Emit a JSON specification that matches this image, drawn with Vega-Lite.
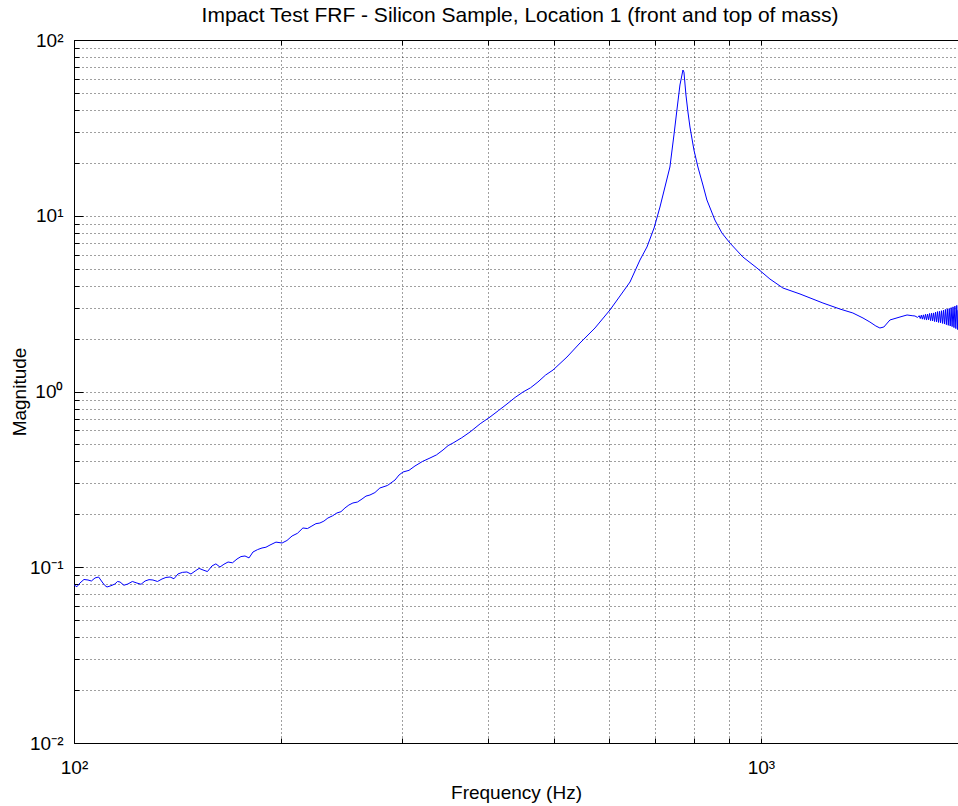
{
  "$schema": "https://vega.github.io/schema/vega-lite/v6.json",
  "width": 884,
  "height": 703,
  "autosize": "none",
  "padding": {"left": 74, "top": 40, "right": 0, "bottom": 63},
  "background": "white",
  "title": {"text": "Impact Test FRF - Silicon Sample, Location 1 (front and top of mass)", "font": "Liberation Sans", "fontSize": 21, "fontWeight": "normal", "color": "black", "anchor": "middle", "offset": 5, "dx": 4},
  "config": {"view": {"stroke": null}},
  "data": {"values": [
    {"f": 100, "m": 0.0793}, {"f": 101.0, "m": 0.0775}, {"f": 102.0, "m": 0.0813}, {"f": 103.4, "m": 0.0852}, {"f": 104.8, "m": 0.0846},
    {"f": 106.0, "m": 0.0835}, {"f": 107.3, "m": 0.0869}, {"f": 108.6, "m": 0.0880}, {"f": 109.9, "m": 0.0824}, {"f": 110.8, "m": 0.0790},
    {"f": 111.7, "m": 0.0772}, {"f": 113.2, "m": 0.0785}, {"f": 114.7, "m": 0.0803}, {"f": 115.7, "m": 0.0830}, {"f": 116.7, "m": 0.0824},
    {"f": 118.2, "m": 0.0790}, {"f": 119.8, "m": 0.0803}, {"f": 121.6, "m": 0.0830}, {"f": 123.5, "m": 0.0813}, {"f": 125.2, "m": 0.0800},
    {"f": 126.9, "m": 0.0835}, {"f": 128.6, "m": 0.0850}, {"f": 130.3, "m": 0.0846}, {"f": 132.3, "m": 0.0830}, {"f": 134.3, "m": 0.0857},
    {"f": 136.1, "m": 0.0875}, {"f": 138.0, "m": 0.0880}, {"f": 139.8, "m": 0.0860}, {"f": 141.7, "m": 0.0916}, {"f": 143.8, "m": 0.0935},
    {"f": 146.0, "m": 0.0940}, {"f": 148.0, "m": 0.0915}, {"f": 150.1, "m": 0.0952}, {"f": 152.1, "m": 0.0985}, {"f": 154.1, "m": 0.0965},
    {"f": 156.4, "m": 0.0945}, {"f": 158.8, "m": 0.1017}, {"f": 160.9, "m": 0.1045}, {"f": 163.1, "m": 0.1003}, {"f": 165.3, "m": 0.1040},
    {"f": 167.6, "m": 0.1071}, {"f": 170.1, "m": 0.1060}, {"f": 172.7, "m": 0.1114}, {"f": 175.0, "m": 0.1150}, {"f": 177.4, "m": 0.1159},
    {"f": 179.8, "m": 0.1130}, {"f": 182.2, "m": 0.1221}, {"f": 185.0, "m": 0.1260}, {"f": 187.8, "m": 0.1287}, {"f": 190.3, "m": 0.1300},
    {"f": 192.9, "m": 0.1338}, {"f": 196.8, "m": 0.1390}, {"f": 200.9, "m": 0.1374}, {"f": 204.2, "m": 0.1420}, {"f": 207.7, "m": 0.1506},
    {"f": 211.5, "m": 0.1560}, {"f": 215.4, "m": 0.1673}, {"f": 218.7, "m": 0.1660}, {"f": 222.0, "m": 0.1717}, {"f": 225.0, "m": 0.1770},
    {"f": 228.0, "m": 0.1785}, {"f": 231.1, "m": 0.1830}, {"f": 234.2, "m": 0.1906}, {"f": 237.8, "m": 0.1960}, {"f": 241.4, "m": 0.2036},
    {"f": 244.7, "m": 0.2070}, {"f": 248.0, "m": 0.2174}, {"f": 251.3, "m": 0.2260}, {"f": 254.7, "m": 0.2321}, {"f": 258.6, "m": 0.2350},
    {"f": 262.6, "m": 0.2445}, {"f": 266.1, "m": 0.2540}, {"f": 269.7, "m": 0.2577}, {"f": 274.2, "m": 0.2660}, {"f": 278.8, "m": 0.2824},
    {"f": 286.0, "m": 0.2920}, {"f": 293.3, "m": 0.3136}, {"f": 297.3, "m": 0.3350}, {"f": 301.3, "m": 0.3483}, {"f": 307.4, "m": 0.3560},
    {"f": 313.6, "m": 0.3769}, {"f": 321.6, "m": 0.4000}, {"f": 329.8, "m": 0.4184}, {"f": 337.1, "m": 0.4360}, {"f": 344.5, "m": 0.4647},
    {"f": 350.4, "m": 0.4920}, {"f": 356.3, "m": 0.5093}, {"f": 366.7, "m": 0.5450}, {"f": 377.2, "m": 0.5884}, {"f": 390.2, "m": 0.6550},
    {"f": 403.3, "m": 0.7159}, {"f": 415.1, "m": 0.7800}, {"f": 426.9, "m": 0.8489}, {"f": 438.7, "m": 0.9250}, {"f": 450.5, "m": 0.9935},
    {"f": 462.0, "m": 1.050}, {"f": 473.6, "m": 1.133}, {"f": 485.8, "m": 1.240}, {"f": 498.1, "m": 1.325},
    {"f": 522.0, "m": 1.571}, {"f": 545.3, "m": 1.888}, {"f": 573.4, "m": 2.298}, {"f": 602.9, "m": 2.909}, {"f": 623.5, "m": 3.494},
    {"f": 644.8, "m": 4.198}, {"f": 666.7, "m": 5.601}, {"f": 682.5, "m": 6.641}, {"f": 699.0, "m": 8.517}, {"f": 712.9, "m": 11.21},
    {"f": 724.9, "m": 14.57}, {"f": 737.1, "m": 18.94}, {"f": 747.1, "m": 28.81}, {"f": 754.6, "m": 39.96}, {"f": 762.3, "m": 55.46},
    {"f": 770.0, "m": 67.5}, {"f": 772.6, "m": 65.7}, {"f": 777.8, "m": 48.65}, {"f": 783.0, "m": 38.93}, {"f": 788.3, "m": 31.99},
    {"f": 798.9, "m": 23.66}, {"f": 809.6, "m": 18.94}, {"f": 823.3, "m": 14.96}, {"f": 834.4, "m": 12.29}, {"f": 857.0, "m": 9.458},
    {"f": 877.4, "m": 7.979}, {"f": 901.3, "m": 6.998}, {"f": 941.3, "m": 5.826}, {"f": 986.7, "m": 5.044}, {"f": 1030.6, "m": 4.366},
    {"f": 1076.5, "m": 3.880}, {"f": 1140, "m": 3.588}, {"f": 1231, "m": 3.188}, {"f": 1303, "m": 2.947}, {"f": 1361, "m": 2.797},
    {"f": 1408, "m": 2.619}, {"f": 1441, "m": 2.485}, {"f": 1470, "m": 2.359}, {"f": 1490, "m": 2.298}, {"f": 1510, "m": 2.328},
    {"f": 1541, "m": 2.552}, {"f": 1594, "m": 2.654}, {"f": 1632, "m": 2.725}, {"f": 1660, "m": 2.70}, {"f": 1676, "m": 2.689},
    {"f": 1690, "m": 2.64}, {"f": 1700, "m": 2.70}, {"f": 1706, "m": 2.60}, {"f": 1712, "m": 2.72}, {"f": 1718, "m": 2.58},
    {"f": 1724, "m": 2.73}, {"f": 1730, "m": 2.57}, {"f": 1736, "m": 2.75}, {"f": 1742, "m": 2.55}, {"f": 1748, "m": 2.76},
    {"f": 1754, "m": 2.56}, {"f": 1760, "m": 2.78}, {"f": 1766, "m": 2.53}, {"f": 1772, "m": 2.79}, {"f": 1778, "m": 2.52},
    {"f": 1784, "m": 2.80}, {"f": 1790, "m": 2.50}, {"f": 1796, "m": 2.83}, {"f": 1802, "m": 2.49}, {"f": 1808, "m": 2.85},
    {"f": 1814, "m": 2.47}, {"f": 1820, "m": 2.86}, {"f": 1826, "m": 2.46}, {"f": 1832, "m": 2.88}, {"f": 1838, "m": 2.44},
    {"f": 1844, "m": 2.90}, {"f": 1850, "m": 2.42}, {"f": 1856, "m": 2.93}, {"f": 1862, "m": 2.40}, {"f": 1868, "m": 2.95},
    {"f": 1874, "m": 2.38}, {"f": 1880, "m": 2.97}, {"f": 1886, "m": 2.36}, {"f": 1892, "m": 3.00}, {"f": 1898, "m": 2.34},
    {"f": 1904, "m": 3.03}, {"f": 1910, "m": 2.31}, {"f": 1916, "m": 3.06}, {"f": 1922, "m": 2.28}, {"f": 1928, "m": 3.09},
    {"f": 1934, "m": 2.25}, {"f": 1936, "m": 2.9}
  ]},
  "layer": [
    {
      "mark": {"type": "line", "color": "#0000ff", "strokeWidth": 1, "clip": true},
      "encoding": {
        "x": {"field": "f", "type": "quantitative",
          "scale": {"type": "log", "domain": [100, 1936], "nice": false},
          "axis": {"orient": "bottom", "title": "Frequency (Hz)",
            "values": [100, 200, 300, 400, 500, 600, 700, 800, 900, 1000],
            "labelExpr": "datum.value == 100 ? '10²' : datum.value == 1000 ? '10³' : ''",
            "labelFont": "Liberation Sans", "labelFontSize": 19, "labelColor": "black", "labelPadding": 20, "labelFlush": false, "labelOverlap": false,
            "titleFont": "Liberation Sans", "titleFontSize": 19, "titleFontWeight": "normal", "titleColor": "black", "titlePadding": 6,
            "domainColor": "black", "domainWidth": 1,
            "ticks": true, "tickColor": "black", "tickWidth": 1, "tickSize": -5,
            "grid": true, "gridColor": "#000000", "gridDash": [1, 3], "gridWidth": 1, "gridOpacity": 0.75}
        },
        "y": {"field": "m", "type": "quantitative",
          "scale": {"type": "log", "domain": [0.01, 100], "nice": false},
          "axis": {"orient": "left", "title": "Magnitude",
            "values": [0.01, 0.02, 0.03, 0.04, 0.05, 0.06, 0.07, 0.08, 0.09, 0.1, 0.2, 0.3, 0.4, 0.5, 0.6, 0.7, 0.8, 0.9, 1, 2, 3, 4, 5, 6, 7, 8, 9, 10, 20, 30, 40, 50, 60, 70, 80, 90, 100],
            "labelExpr": "datum.value == 100 ? '10²' : datum.value == 10 ? '10¹' : datum.value == 1 ? '10⁰' : datum.value == 0.1 ? '10⁻¹' : datum.value == 0.01 ? '10⁻²' : ''",
            "labelFont": "Liberation Sans", "labelFontSize": 19, "labelColor": "black", "labelPadding": 20, "labelFlush": false, "labelOverlap": false,
            "titleFont": "Liberation Sans", "titleFontSize": 19, "titleFontWeight": "normal", "titleColor": "black", "titlePadding": 0,
            "domainColor": "black", "domainWidth": 1,
            "ticks": true, "tickColor": "black", "tickWidth": 1, "tickSize": {"condition": {"test": "indexof([0.01, 0.1, 1, 10, 100], datum.value) >= 0", "value": -9}, "value": -5},
            "grid": true, "gridColor": "#000000", "gridDash": [1, 3], "gridWidth": 1, "gridOpacity": 0.75}
        }
      }
    },
    {
      "mark": {"type": "line", "strokeOpacity": 0},
      "encoding": {
        "x": {"field": "f", "type": "quantitative",
          "axis": {"orient": "top", "title": null, "labels": false, "grid": false,
            "values": [100, 200, 300, 400, 500, 600, 700, 800, 900, 1000],
            "domainColor": "black", "domainWidth": 1, "ticks": true, "tickColor": "black", "tickWidth": 1, "tickSize": -5}
        }
      }
    }
  ],
  "resolve": {"axis": {"x": "independent"}}
}
